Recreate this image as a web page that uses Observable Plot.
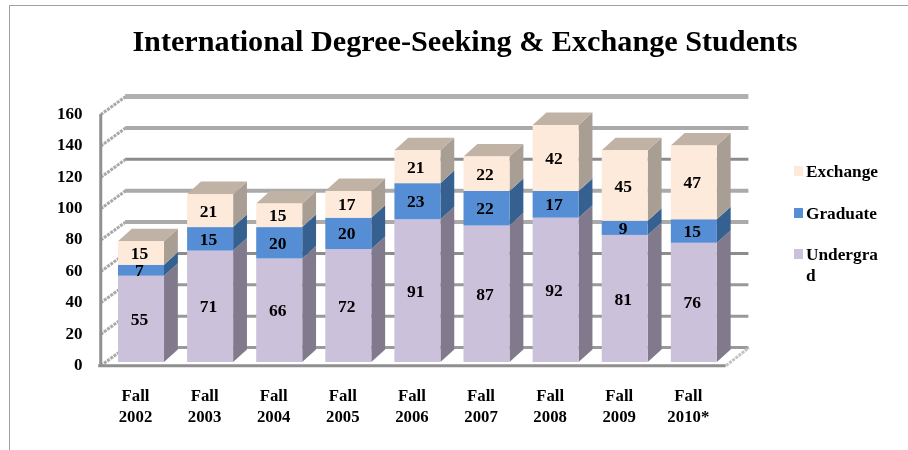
<!DOCTYPE html>
<html><head><meta charset="utf-8">
<script src="https://cdn.jsdelivr.net/npm/d3@7"></script>
<script src="https://cdn.jsdelivr.net/npm/@observablehq/plot@0.6"></script>
<style>
html,body{margin:0;padding:0;background:#fff}
#frame{position:relative;width:908px;height:450px;overflow:hidden;font-family:"Liberation Serif",serif;color:#000;filter:blur(0.35px)}
#border{position:absolute;left:9px;top:5px;width:950px;height:500px;border:1.5px solid #a0a0a0}
#title{position:absolute;left:9px;width:912px;top:21px;text-align:center;font-weight:bold;font-size:30.2px;line-height:40px;white-space:nowrap}
#chart{position:absolute;left:0;top:0}
#legend{position:absolute;left:794px;top:161px;width:100px;font-weight:bold;font-size:17.3px;line-height:21px}
.it{position:absolute;left:0;padding-left:12px;width:73px;word-break:break-all}
.sw{position:absolute;left:0;top:5px;width:9px;height:10px}
</style></head><body>
<div id="frame"><div id="border"></div><div id="chart"></div><div id="title">International Degree-Seeking &amp; Exchange Students</div><div id="legend"></div></div>
<script>
const terms = ["Fall\n2002","Fall\n2003","Fall\n2004","Fall\n2005","Fall\n2006","Fall\n2007","Fall\n2008","Fall\n2009","Fall\n2010*"];
const undergrad = [55,71,66,72,91,87,92,81,76];
const graduate  = [7,15,20,20,23,22,17,9,15];
const exchange  = [15,21,15,17,21,22,42,45,47];
const seriesNames = ["Undergrad","Graduate","Exchange"];
const seriesValues = [undergrad,graduate,exchange];
const frontFill = ["#ccc1da","#558ed5","#fdeada"];
const sideFill  = ["#807a8c","#35608f","#a89e93"];
const topFill = "#c0b2a5";
const yTicks = d3.range(0,161,20);
const gridStroke = ["#999999","#999999","#999999","#8c8c8c","#aaaaaa","#aaaaaa","#8c8c8c","#aaaaaa","#b0b0b0"];
const gridWidth  = [3,3,3,3,4,4,3,4,5];

const halfBar = 0.333, depthX = 0.2, depthY = 8;      // bar geometry in data units
const wallBack = 9.5, wallFront = -2;                 // y lift of back wall / front axis
const wallLeft = -0.59, wallBackLeft = -0.23, wallRight = 8.46, wallBackRight = 8.79;

const segs = [];
terms.forEach((t,i)=>{ let base=0;
  seriesValues.forEach((vals,s)=>{ segs.push({i,s,v:vals[i],y1:base,y2:base+vals[i]}); base+=vals[i]; });
});
const sidePts = segs.flatMap(d=>[0,1].map(k=>({z:d.i+"-"+d.s,s:d.s,x:d.i+halfBar+k*depthX,y1:d.y1+k*depthY,y2:d.y2+k*depthY})));
const tops = segs.filter(d=>d.s===2);
const topPts = tops.flatMap(d=>[0,1].map(k=>({z:d.i,y:d.y2+k*depthY,x1:d.i-halfBar+k*depthX,x2:d.i+halfBar+k*depthX})));
const wallLinks = yTicks.map(v=>({x1:wallLeft,y1:v+wallFront,x2:wallBackLeft,y2:v+wallBack}));

const chart = Plot.plot({
  width:908,height:450,marginLeft:82,marginRight:128,marginTop:111,marginBottom:88,
  style:{fontFamily:"Liberation Serif",background:"transparent",color:"#000"},
  x:{domain:[-0.854,9.247],label:null},
  y:{domain:[0,160],label:null},
  marks:[
    Plot.ruleY(yTicks,{y:d=>d+wallBack,x1:wallBackLeft,x2:wallBackRight,stroke:(d,i)=>gridStroke[i],strokeWidth:(d,i)=>gridWidth[i]}),
    Plot.link(wallLinks,{x1:"x1",y1:"y1",x2:"x2",y2:"y2",stroke:"#a9a9a9",strokeWidth:3,strokeDasharray:"3,1"}),
    Plot.link([{}],{x1:()=>wallRight,y1:()=>wallFront,x2:()=>wallBackRight,y2:()=>wallBack,stroke:"#c4c4c4",strokeWidth:3,strokeDasharray:"3,1"}),
    Plot.ruleX([wallLeft],{y1:wallFront,y2:160+wallFront,stroke:"#8f8f8f",strokeWidth:3}),
    Plot.ruleY([wallFront],{x1:wallLeft-0.03,x2:wallRight,stroke:"#8f8f8f",strokeWidth:3}),
    Plot.areaY(sidePts,{x:"x",y1:"y1",y2:"y2",z:"z",fill:d=>sideFill[d.s]}),
    Plot.areaX(topPts,{y:"y",x1:"x1",x2:"x2",z:"z",fill:topFill}),
    Plot.rect(segs,{x1:d=>d.i-halfBar,x2:d=>d.i+halfBar,y1:"y1",y2:"y2",fill:d=>frontFill[d.s]}),
    Plot.text(segs,{x:d=>d.i-0.03,y:d=>(d.y1+d.y2)/2,text:"v",fontSize:17.5,fontWeight:"bold",fill:"#000"}),
    Plot.axisY({ticks:yTicks,tickSize:0,tickPadding:0,dy:2,fontSize:17,fontWeight:"bold",label:null,fill:"#000"}),
    Plot.axisX({ticks:d3.range(terms.length),tickFormat:i=>terms[i],tickSize:0,tickPadding:24,dx:-6,fontSize:16.8,fontWeight:"bold",lineHeight:1.25,label:null,fill:"#000"})
  ]
});
document.getElementById("chart").append(chart);

const legend = document.getElementById("legend");
[2,1,0].forEach((s,k)=>{
  const it=document.createElement("div");it.className="it";it.style.top=(k*41.5)+"px";
  const sw=document.createElement("div");sw.className="sw";sw.style.background=frontFill[s];
  it.append(sw,document.createTextNode(seriesNames[s]));legend.append(it);
});
</script></body></html>
